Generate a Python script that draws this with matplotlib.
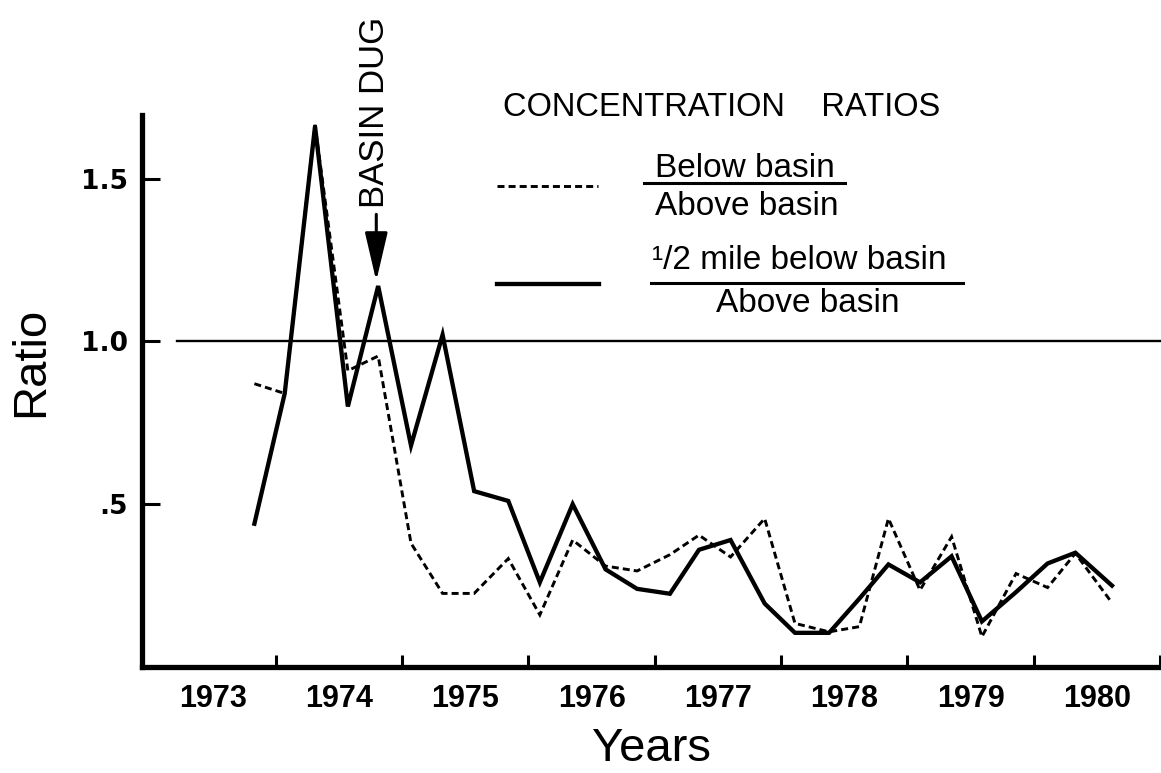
import matplotlib
matplotlib.use("Agg")
import matplotlib.pyplot as plt
from matplotlib import font_manager
from matplotlib.lines import Line2D
from matplotlib.patches import ArrowStyle
from matplotlib.ticker import FixedLocator, NullFormatter

# sampling dates (decimal years, roughly quarterly)
dates = [1973.83, 1974.07, 1974.31, 1974.57, 1974.81, 1975.07, 1975.32,
         1975.57, 1975.84, 1976.09, 1976.35, 1976.61, 1976.86, 1977.12,
         1977.35, 1977.60, 1977.87, 1978.11, 1978.38, 1978.62, 1978.85,
         1979.10, 1979.35, 1979.59, 1979.86, 1980.11, 1980.33, 1980.62]

# below basin / above basin
below_ratio = [0.87, 0.84, 1.665, 0.91, 0.955, 0.38, 0.226,
               0.226, 0.333, 0.16, 0.39, 0.31, 0.295, 0.345,
               0.405, 0.338, 0.456, 0.134, 0.108, 0.124, 0.456,
               0.236, 0.40, 0.093, 0.287, 0.244, 0.349, 0.197]

# 1/2 mile below basin / above basin
half_mile_ratio = [0.44, 0.84, 1.66, 0.80, 1.17, 0.68, 1.02,
                   0.54, 0.51, 0.26, 0.50, 0.30, 0.24, 0.225,
                   0.36, 0.39, 0.195, 0.105, 0.105, 0.21, 0.315,
                   0.26, 0.34, 0.14, 0.23, 0.318, 0.351, 0.25]

years = [1973, 1974, 1975, 1976, 1977, 1978, 1979, 1980]
y_ticks = [0.5, 1.0, 1.5]
y_labels = [".5", "1.0", "1.5"]
basin_dug = 1974.795

# narrow bold font for the year labels if there is one
installed = {f.name for f in font_manager.fontManager.ttflist}
if "Liberation Sans Narrow" in installed:
    year_font, year_size = "Liberation Sans Narrow", 24.5
elif "DejaVu Sans Condensed" in installed:
    year_font, year_size = "DejaVu Sans Condensed", 23
else:
    year_font, year_size = "Liberation Sans", 22

fig = plt.figure(figsize=(11.61, 7.73), dpi=100)
ax = fig.add_axes([0.1223, 0.1371, 0.8777, 0.7141])

ax.plot(dates, below_ratio, color="black", lw=2.1, linestyle=(0, (2.4, 1.4)),
        dash_joinstyle="miter", zorder=3)
ax.plot(dates, half_mile_ratio, color="black", lw=3.1,
        solid_joinstyle="miter", zorder=4)
ax.axhline(1.0, xmin=0.034, color="black", lw=1.7)

ax.set_xlim(1972.94, 1981.008)
ax.set_ylim(0, 1.695)

for side in ["top", "right"]:
    ax.spines[side].set_visible(False)
for side in ["left", "bottom"]:
    ax.spines[side].set_linewidth(3.8)

# year boundaries get ticks, labels sit mid-year
ax.xaxis.set_major_locator(FixedLocator([y + 1 for y in years]))
ax.xaxis.set_major_formatter(NullFormatter())
ax.set_xticks([y + 0.5 for y in years], [str(y) for y in years], minor=True,
              fontfamily=[year_font, "DejaVu Sans"], fontweight="bold",
              fontsize=year_size)
ax.tick_params(axis="x", which="major", direction="in", length=8.6, width=2.2)
ax.tick_params(axis="x", which="minor", length=0, pad=12)

ax.set_yticks(y_ticks, y_labels, fontfamily="DejaVu Sans", fontweight="bold",
              fontsize=19)
ax.tick_params(axis="y", direction="in", length=13, width=2.2, pad=10)

ax.set_xlabel("Years", fontsize=34, family="Liberation Sans", va="center")
ax.xaxis.set_label_coords(0.5, -0.149)
ax.set_ylabel("Ratio", fontsize=34, family="Liberation Sans", va="center")
ax.yaxis.set_label_coords(-0.109, 0.553)

# basin dug marker
ax.text(0.2277, 0.8315, "BASIN DUG", transform=ax.transAxes, rotation=90,
        ha="center", va="bottom", fontsize=25, family="Liberation Sans",
        clip_on=False)
ax.annotate("", xy=(basin_dug, 1.185), xytext=(basin_dug, 1.39),
            arrowprops=dict(arrowstyle=ArrowStyle("-|>", head_length=1.5, head_width=0.35),
                            mutation_scale=20, lw=2.2, color="black",
                            shrinkA=0, shrinkB=0))

# hand drawn legend
tf = ax.transAxes
txt = dict(transform=tf, family="Liberation Sans", fontsize=24, clip_on=False)
ax.text(0.3543, 1.0145, "CONCENTRATION    RATIOS", ha="left", va="center",
        transform=tf, family="Liberation Sans", fontsize=23.5, clip_on=False)

ax.add_line(Line2D([0.3484, 0.4475], [0.8714, 0.8714], transform=tf, color="black",
                   lw=2.1, linestyle=(0, (2.4, 1.4))))
ax.text(0.5918, 0.904, "Below basin", ha="center", va="center", **txt)
ax.add_line(Line2D([0.4926, 0.6899], [0.8768, 0.8768], transform=tf, color="black", lw=2.2))
ax.text(0.5937, 0.8351, "Above basin", ha="center", va="center", **txt)

ax.add_line(Line2D([0.3484, 0.4485], [0.6938, 0.6938], transform=tf, color="black", lw=3.1))
ax.text(0.5005, 0.7373, "\u00b9/2 mile below basin", ha="left", va="center", **txt)
ax.add_line(Line2D([0.4995, 0.8057], [0.6957, 0.6957], transform=tf, color="black", lw=2.2))
ax.text(0.6536, 0.6594, "Above basin", ha="center", va="center", **txt)

fig.savefig("out.png", dpi=100)
